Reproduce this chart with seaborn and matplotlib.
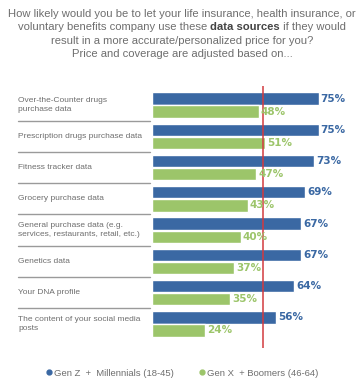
import matplotlib
matplotlib.use("Agg")
import matplotlib.pyplot as plt
import matplotlib.transforms as mtransforms
from matplotlib.lines import Line2D
import seaborn as sns
import pandas as pd

# data
categories = [
    "Over-the-Counter drugs\npurchase data",
    "Prescription drugs purchase data",
    "Fitness tracker data",
    "Grocery purchase data",
    "General purchase data (e.g.\nservices, restaurants, retail, etc.)",
    "Genetics data",
    "Your DNA profile",
    "The content of your social media\nposts",
]
gen_z_mill = [75, 75, 73, 69, 67, 67, 64, 56]
gen_x_boom = [48, 51, 47, 43, 40, 37, 35, 24]
groups = ["Gen Z  +  Millennials (18-45)", "Gen X  + Boomers (46-64)"]

blue = "#3a68a3"
green = "#9cc56a"
gray = "#6e6e6e"

df = pd.DataFrame({
    "cat": categories * 2,
    "val": gen_z_mill + gen_x_boom,
    "grp": [groups[0]] * len(categories) + [groups[1]] * len(categories),
})

sns.set_style("white")
plt.rcParams["font.family"] = ["Liberation Sans", "DejaVu Sans"]

fig = plt.figure(figsize=(3.64, 3.87), dpi=100)
ax = fig.add_axes([152 / 364, 1 - 348 / 387, 211 / 364, (348 - 86) / 387])

sns.barplot(data=df, y="cat", x="val", hue="grp", orient="h", saturation=1,
            palette=[blue, green], width=0.84, gap=0.06, ax=ax, legend=False)

ax.set_xlim(0, 95)
ax.set_ylim(7.77, -0.61)
ax.axvline(50, color="#d23a3f", lw=1.1, zorder=3)

for c, col in zip(ax.containers, [blue, green]):
    ax.bar_label(c, labels=[f"{int(v)}%" for v in c.datavalues], padding=1.5,
                 color=col, fontsize=7.5, fontweight="bold",
                 family="DejaVu Sans", zorder=4)

ax.set_xlabel("")
ax.set_ylabel("")
ax.set_xticks([])
ax.set_yticks([])
for s in ax.spines.values():
    s.set_visible(False)

# category labels and separators on the left
tr = mtransforms.blended_transform_factory(fig.transFigure, ax.transData)
for i, lab in enumerate(categories):
    fig.text(18 / 364, i, lab, transform=tr, ha="left", va="center",
             fontsize=6.0, color=gray, linespacing=1.45)
    if i < len(categories) - 1:
        fig.add_artist(Line2D([18 / 364, 150 / 364], [i + 0.5, i + 0.5],
                              transform=tr, color="#9a9a9a", lw=1))

# title with bold part
title_lines = [
    "How likely would you be to let your life insurance, health insurance, or",
    None,
    "result in a more accurate/personalized price for you?",
    "Price and coverage are adjusted based on...",
]
ys = [14, 27.5, 41, 54]
tsize = 8.1
for t, y in zip(title_lines, ys):
    if t is not None:
        fig.text(0.5, 1 - y / 387, t, ha="center", va="center",
                 fontsize=tsize, color=gray)

parts = [("voluntary benefits company use these ", "normal", gray),
         ("data sources", "bold", "#444444"),
         (" if they would", "normal", gray)]
r = fig.canvas.get_renderer()
txts = []
for s, w, col in parts:
    t = fig.text(0, 1 - ys[1] / 387, s, ha="left", va="center",
                 fontsize=tsize, fontweight=w, color=col)
    txts.append(t)
widths = [t.get_window_extent(r).width for t in txts]
x0 = (364 - sum(widths)) / 2
for t, w in zip(txts, widths):
    t.set_x(x0 / 364)
    x0 += w

# legend
handles = [Line2D([], [], marker="o", ls="", color=blue, markersize=3.5),
           Line2D([], [], marker="o", ls="", color=green, markersize=3.5)]
fig.legend(handles, groups, loc="center", bbox_to_anchor=(0.5, 1 - 373 / 387),
           ncol=2, frameon=False, fontsize=6.8, labelcolor=gray,
           handletextpad=0.1, columnspacing=2.6, handlelength=0.8)

fig.savefig("out.png", dpi=100)
